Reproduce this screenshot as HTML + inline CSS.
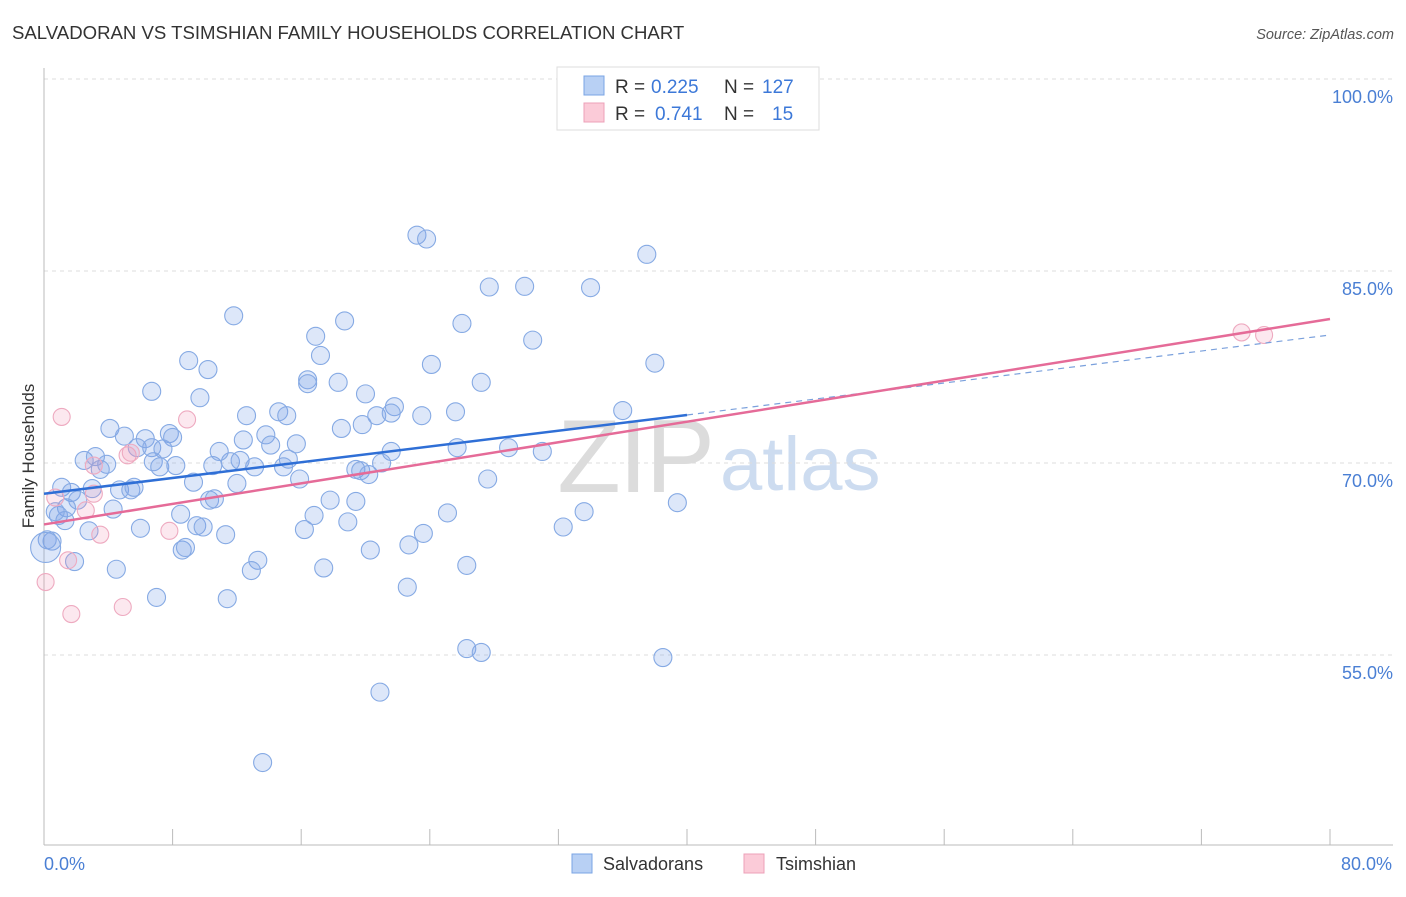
<!DOCTYPE html>
<html><head><meta charset="utf-8"><style>
body{margin:0;background:#fff;font-family:"Liberation Sans",sans-serif;}
svg text{font-family:"Liberation Sans",sans-serif;}
</style></head><body>
<svg id="chart" width="1406" height="892" xmlns="http://www.w3.org/2000/svg">
<text x="12" y="39" font-size="18.6" fill="#333">SALVADORAN VS TSIMSHIAN FAMILY HOUSEHOLDS CORRELATION CHART</text>
<text x="1394" y="39" font-size="14.5" fill="#555" text-anchor="end" font-style="italic">Source: ZipAtlas.com</text>
<g>
<text x="713" y="492" font-size="104" fill="#dcdcdc" text-anchor="end" font-family="Liberation Serif" letter-spacing="-2">ZIP</text>
<text x="720" y="490" font-size="76" fill="#cddcf0">atlas</text>
</g>
<g id="grid"></g>
<g id="axes"></g>
<g id="pts"></g>
<g id="trends"></g>
<text transform="translate(34,456) rotate(-90)" font-size="17" fill="#333" text-anchor="middle">Family Households</text>
<g>
<rect x="557" y="67" width="262" height="63" fill="#fff" stroke="#ddd"/>
<rect x="584" y="76" width="20" height="19" fill="#b8d0f4" stroke="#7aa4e4"/>
<rect x="584" y="103" width="20" height="19" fill="#fbcbd8" stroke="#eca0b8"/>
<text x="615" y="93" font-size="19" fill="#333">R =</text>
<text x="651" y="93" font-size="19" fill="#3c78d8">0.225</text>
<text x="724" y="93" font-size="19" fill="#333">N =</text>
<text x="762" y="93" font-size="19" fill="#3c78d8">127</text>
<text x="615" y="120" font-size="19" fill="#333">R =</text>
<text x="655" y="120" font-size="19" fill="#3c78d8">0.741</text>
<text x="724" y="120" font-size="19" fill="#333">N =</text>
<text x="772" y="120" font-size="19" fill="#3c78d8">15</text>
</g>
<g>
<rect x="572" y="854" width="20" height="19" fill="#b8d0f4" stroke="#7aa4e4"/>
<text x="603" y="870" font-size="18" fill="#333">Salvadorans</text>
<rect x="744" y="854" width="20" height="19" fill="#fbcbd8" stroke="#eca0b8"/>
<text x="776" y="870" font-size="18" fill="#333">Tsimshian</text>
</g>
</svg>
<script>
const yTicks=[100,85,70,55];
const yTickLabels=["100.0%","85.0%","70.0%","55.0%"];
const xTicks=[0,8,16,24,32,40,48,56,64,72,80];
const xEndLabels=["0.0%","80.0%"];
const blueX=[23.2,23.8,37.5,27.7,29.9,34.0,11.8,18.7,26.0,16.9,30.4,17.2,9.0,10.2,24.1,38.0,16.4,18.3,27.2,6.7,20.0,9.7,16.4,21.8,25.6,36.0,12.6,14.6,15.1,20.7,21.6,23.5,4.1,18.5,19.8,5.0,7.8,6.3,8.0,13.8,12.4,15.7,14.1,5.8,6.7,7.4,21.6,25.7,28.9,31.0,2.5,3.2,3.9,3.5,6.8,7.2,8.2,10.5,11.6,12.2,13.1,15.2,14.9,10.9,19.4,19.7,20.2,21.0,15.9,9.3,27.6,12.0,1.1,1.7,3.0,4.7,5.4,5.6,2.1,10.3,10.6,17.8,19.4,4.3,1.4,0.9,8.5,16.8,18.9,25.1,33.6,39.4,2.8,6.0,9.5,9.9,16.2,11.3,23.6,32.3,0.5,8.6,8.8,20.3,22.7,13.3,1.9,4.5,12.9,17.4,26.3,22.6,7.0,11.4,26.3,27.2,38.5,20.9,13.6,0.2,1.3,0.7];
const blueY=[87.8,87.5,86.3,83.75,83.8,83.7,81.5,81.1,80.9,79.9,79.6,78.4,78.0,77.3,77.7,77.8,76.5,76.3,76.3,75.6,75.4,75.1,76.2,74.4,74.0,74.1,73.7,74.0,73.7,73.7,73.9,73.7,72.7,72.7,73.0,72.1,72.3,71.9,72.0,72.2,71.8,71.5,71.4,71.2,71.2,71.1,70.9,71.2,71.2,70.9,70.2,70.5,69.9,69.5,70.1,69.7,69.8,69.8,70.1,70.2,69.7,70.3,69.7,70.9,69.5,69.4,69.1,70.0,68.75,68.5,68.75,68.4,68.1,67.7,68.0,67.9,67.9,68.1,67.1,67.1,67.2,67.1,67.0,66.4,66.5,65.9,66.0,65.9,65.4,66.1,66.2,66.9,64.7,64.9,65.1,65.0,64.8,64.4,64.5,65.0,63.9,63.2,63.4,63.2,63.6,62.4,62.3,61.7,61.6,61.8,62.0,60.3,59.5,59.4,55.5,55.2,54.8,52.1,46.6,64.0,65.5,66.2];
const bigBlueX=[0.1], bigBlueY=[63.4];
const pinkX=[1.1,8.9,5.2,5.4,3.1,0.7,2.6,3.1,3.5,7.8,1.5,0.1,4.9,1.7,74.5,75.9];
const pinkY=[73.6,73.4,70.6,70.8,69.8,67.3,66.3,67.6,64.4,64.7,62.4,60.7,58.75,58.2,80.2,80.0];
const blueTrendX=[0,40,80], blueTrendY=[67.6,73.75,80.0];
const pinkTrendX=[0,80], pinkTrendY=[65.2,81.25];

const NS="http://www.w3.org/2000/svg";
const X=v=>44+v*(1330-44)/80;
const Y=v=>79+(100-v)*12.8;
function mk(tag,attrs,parent){const e=document.createElementNS(NS,tag);for(const k in attrs)e.setAttribute(k,attrs[k]);document.getElementById(parent).appendChild(e);return e;}
yTicks.forEach((t,i)=>{
  const l=mk('line',{x1:44,x2:1393,y1:Y(t),y2:Y(t),stroke:'#ddd','stroke-dasharray':'4,4'},'grid');
  
  
  const tx=mk('text',{x:1393,y:Y(t)+24,'font-size':18,fill:'#4a7fd4','text-anchor':'end'},'grid');
  tx.textContent=yTickLabels[i];
  
  
});
let a=mk('line',{x1:44,x2:44,y1:68,y2:845,stroke:'#bbb'},'axes');


a=mk('line',{x1:44,x2:1393,y1:845,y2:845,stroke:'#bbb'},'axes');


xTicks.forEach(t=>{const l=mk('line',{x1:X(t),x2:X(t),y1:829,y2:845,stroke:'#bbb'},'axes');
  
  });
[[0,'start'],[80,'end']].forEach((p,i)=>{const t=mk('text',{x:X(p[0])+(i?62:0),y:870,'font-size':18,fill:'#4a7fd4','text-anchor':p[1]},'axes');t.textContent=xEndLabels[i];
  
  });
function dot(x,y,r,fill,stroke,name){const c=mk('circle',{cx:X(x),cy:Y(y),r:r,fill:fill,stroke:stroke,'stroke-width':1.1},'pts');
  
  }
blueX.forEach((x,i)=>dot(x,blueY[i],9,'rgba(120,160,230,0.25)','#86aae4','salvadoran-point'));
bigBlueX.forEach((x,i)=>dot(x,bigBlueY[i],15,'rgba(120,160,230,0.25)','#86aae4','salvadoran-point'));
pinkX.forEach((x,i)=>dot(x,pinkY[i],8.5,'rgba(240,150,180,0.22)','#eeaac0','tsimshian-point'));
let t=mk('line',{x1:X(blueTrendX[0]),y1:Y(blueTrendY[0]),x2:X(blueTrendX[1]),y2:Y(blueTrendY[1]),stroke:'#2f6fd6','stroke-width':2.5},'trends');


t=mk('line',{x1:X(blueTrendX[1]),y1:Y(blueTrendY[1]),x2:X(blueTrendX[2]),y2:Y(blueTrendY[2]),stroke:'#7aa0dc','stroke-width':1.2,'stroke-dasharray':'6,5'},'trends');


t=mk('line',{x1:X(pinkTrendX[0]),y1:Y(pinkTrendY[0]),x2:X(pinkTrendX[1]),y2:Y(pinkTrendY[1]),stroke:'#e56b98','stroke-width':2.5},'trends');


</script>
</body></html>
